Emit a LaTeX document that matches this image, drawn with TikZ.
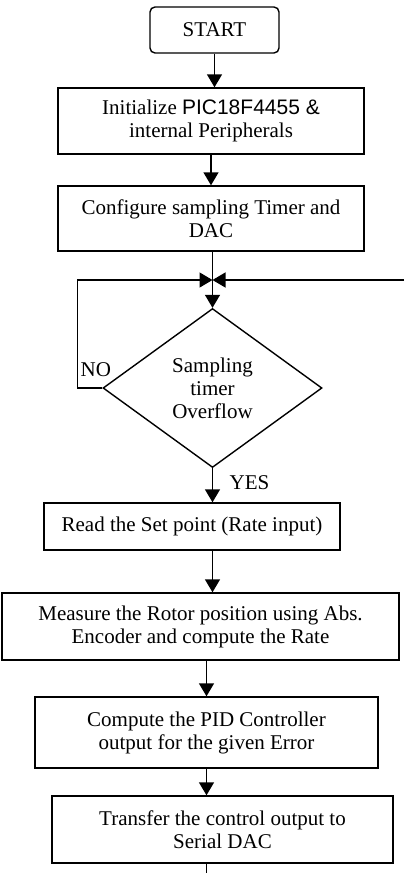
\documentclass[tikz,border=0pt]{standalone}
\usepackage{fontspec}
\setmainfont{Liberation Serif}
\newfontfamily\chipfont{Liberation Sans}
\usetikzlibrary{arrows.meta,positioning,shapes.geometric}

\begin{document}
\begin{tikzpicture}[
  x=0.5pt, y=-0.5pt,
  box/.style={rectangle, draw, align=center, inner sep=0pt, font=\fontsize{10.5}{11.5}\selectfont},
  term/.style={box, rounded corners=2.5pt},
  decision/.style={diamond, draw, align=center, inner sep=0pt, font=\fontsize{10.5}{11.5}\selectfont},
  lbl/.style={inner sep=0pt, font=\fontsize{10.5}{11.5}\selectfont},
  arr/.style={-{Triangle[length=6.5pt,width=7.5pt]}},
  line width=0.7pt
]
\useasboundingbox (0,0) rectangle (404,873);

\node[term, minimum width=64.5pt, minimum height=23pt] (start) at (214.5,30) {START};
\node[box, minimum width=153pt, minimum height=33pt] (init) at (211,121) {Initialize {\chipfont PIC18F4455 \&}\\internal Peripherals};
\node[box, minimum width=153pt, minimum height=32.5pt] (config) at (211,218.5) {Configure sampling Timer and\\DAC};
\node[decision, minimum width=109.5pt, minimum height=79.5pt] (dec) at (212.5,388) {Sampling\\timer\\Overflow};
\node[box, minimum width=148pt, minimum height=23.5pt] (read) at (192,526.5) {Read the Set point (Rate input)};
\node[box, minimum width=198.5pt, minimum height=33.5pt] (measure) at (200.5,626.5) {Measure the Rotor position using Abs.\\Encoder and compute the Rate};
\node[box, minimum width=171.5pt, minimum height=35.5pt] (pid) at (206.5,732.5) {Compute the PID Controller\\output for the given Error};
\node[box, minimum width=170.5pt, minimum height=33.5pt] (transfer) at (222.5,829.5) {Transfer the control output to\\Serial DAC};

\coordinate (join) at (212.5,280);
\coordinate (back) at (404,280);
\coordinate (tail) at (206.5,873);

\node[lbl, anchor=base west] (no) at (80,376) {NO};
\node[lbl, anchor=base west] (yes) at (229,489) {YES};

\draw[arr] (start.south) -- (start.south |- init.north);
\draw[arr] (init.south) -- (config.north);
\draw[arr] (config.south -| dec.north) -- (dec.north);
\draw[arr] (dec.west) -- ++(-25,0) |- (join);
\draw[arr] (back) -- (join);
\draw[arr] (dec.south) -- (dec.south |- read.north);
\draw[arr] (dec.south |- read.south) -- (dec.south |- measure.north);
\draw[arr] (pid.north |- measure.south) -- (pid.north);
\draw[arr] (pid.south) -- (pid.south |- transfer.north);
\draw (pid.south |- transfer.south) -- (tail);
\end{tikzpicture}
\end{document}
